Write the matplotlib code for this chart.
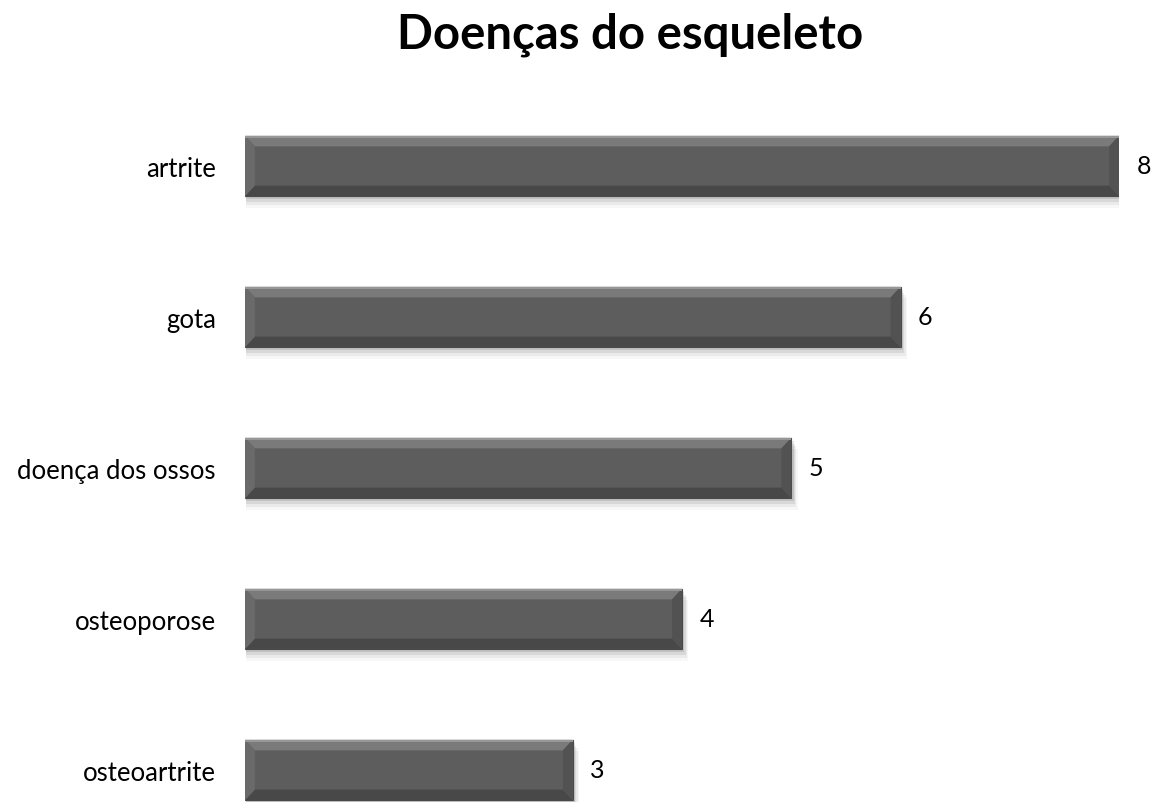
import matplotlib
matplotlib.use("Agg")
import matplotlib.pyplot as plt
from matplotlib.patches import Polygon, Rectangle

# data, bottom to top
categories = ["osteoartrite", "osteoporose", "doença dos ossos", "gota", "artrite"]
values = [3, 4, 5, 6, 8]
title = "Doenças do esqueleto"

plt.rcParams["font.family"] = ["Lato", "DejaVu Sans"]

fig = plt.figure(figsize=(11.56, 8.03), dpi=100)
ax = fig.add_axes([245 / 1156, 0, (1119 - 245) / 1156, (803 - 91.5) / 803])
ax.set_xlim(0, 8)
ax.set_ylim(-0.212, 4.5)

h = 0.4
bx = 0.09   # bevel width in x units
by = 0.07   # bevel height in y units

for i, v in enumerate(values):
    y0, y1 = i - h / 2, i + h / 2
    # soft shadow
    for k, a in enumerate([0.10, 0.07, 0.05, 0.03]):
        d = 0.012 * (k + 1)
        ax.add_patch(Rectangle((0.01, y0 - d * 1.6), v + d, h, color="black", alpha=a, lw=0, zorder=1))
    ax.add_patch(Rectangle((0, y0), v, h, facecolor="#5d5d5d", edgecolor="#4a4a4a", lw=0.8, zorder=2))
    # bevels
    top = Polygon([(0, y1), (v, y1), (v - bx, y1 - by), (bx, y1 - by)], closed=True,
                  facecolor="#7a7a7a", lw=0, zorder=3)
    bot = Polygon([(0, y0), (v, y0), (v - bx, y0 + by), (bx, y0 + by)], closed=True,
                  facecolor="#484848", lw=0, zorder=3)
    lft = Polygon([(0, y0), (0, y1), (bx, y1 - by), (bx, y0 + by)], closed=True,
                  facecolor="#6a6a6a", lw=0, zorder=3)
    rgt = Polygon([(v, y0), (v, y1), (v - bx, y1 - by), (v - bx, y0 + by)], closed=True,
                  facecolor="#525252", lw=0, zorder=3)
    for p in (top, bot, lft, rgt):
        ax.add_patch(p)
    ax.add_patch(Rectangle((0, y1 - 0.015), v, 0.015, color="#979797", lw=0, zorder=4))
    ax.text(v + 0.16, i, str(v), va="center", ha="left", fontsize=18, color="black")

ax.set_yticks(range(len(categories)))
ax.set_yticklabels(categories, fontsize=18.5)
ax.tick_params(axis="y", length=0, pad=21)
ax.set_xticks([])
for s in ax.spines.values():
    s.set_visible(False)

fig.text(630 / 1156, 1 - 35 / 803, title, ha="center", va="center", fontsize=34, fontweight="bold")

fig.savefig("out.png", dpi=100)
